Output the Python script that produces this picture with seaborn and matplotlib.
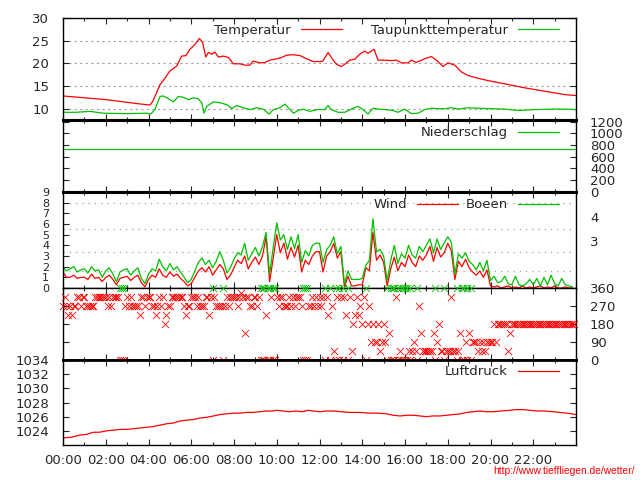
import numpy as np
import matplotlib
matplotlib.use("Agg")
import matplotlib.pyplot as plt
from matplotlib.ticker import MultipleLocator
import seaborn as sns

# --- Temperatur / Taupunkt (Stunde, Grad C) ---
temp_t = [0, 0.5, 1.0, 1.5, 2.0, 2.5, 3.0, 3.5, 4.07,
          4.2, 4.54, 4.75, 5.0, 5.32, 5.55, 5.75, 5.94, 6.18, 6.38,
          6.53, 6.68, 6.8, 6.96, 7.1, 7.27, 7.5, 7.74, 7.97, 8.28,
          8.51, 8.74, 8.9, 9.22, 9.45, 9.68, 10.0, 10.23, 10.46, 10.78,
          11.09, 11.4, 11.71, 12.02, 12.16, 12.4, 12.55, 12.79, 13.02, 13.18,
          13.41, 13.65, 13.88, 14.11, 14.27, 14.42, 14.55, 14.74, 15.05, 15.36,
          15.6, 15.83, 16.14, 16.3, 16.53, 16.92, 17.23, 17.47, 17.78, 18.01,
          18.33, 18.64, 18.95, 19.42, 19.88, 20.43, 20.97, 21.6, 22.22, 22.85,
          23.47, 24.0]
temp_v = [12.8, 12.6, 12.4, 12.2, 12.0, 11.7, 11.4, 11.1, 10.8,
          11.6, 15.3, 16.6, 18.3, 19.4, 21.6, 21.7, 23.1, 24.2, 25.5,
          24.6, 21.4, 22.4, 22.0, 22.5, 21.4, 21.6, 21.3, 19.9, 19.9,
          19.6, 19.6, 20.5, 20.1, 20.2, 20.7, 21.0, 21.3, 21.8, 21.9,
          21.7, 21.0, 20.4, 20.4, 20.5, 22.4, 21.3, 19.8, 19.3, 19.8,
          20.7, 20.9, 22.0, 22.7, 22.2, 22.7, 23.1, 20.7, 20.7, 20.6,
          20.7, 20.1, 20.1, 20.7, 20.2, 21.0, 21.5, 20.7, 19.3, 20.1,
          19.6, 18.1, 17.3, 16.7, 16.2, 15.7, 15.2, 14.6, 14.1, 13.6,
          13.1, 12.9]

dew_t = [0, 0.6, 1.26, 1.89, 2.98, 3.92, 4.1, 4.3, 4.54, 4.7,
         4.93, 5.16, 5.4, 5.64, 5.87, 6.1, 6.33, 6.49, 6.6, 6.72,
         7.04, 7.35, 7.66, 7.9, 8.13, 8.44, 8.75, 9.06, 9.37, 9.65,
         9.84, 10.15, 10.39, 10.62, 10.78, 11.0, 11.24, 11.55, 11.87, 12.24,
         12.4, 12.55, 12.87, 13.18, 13.49, 13.8, 14.04, 14.27, 14.5, 14.74,
         15.05, 15.44, 15.67, 15.99, 16.3, 16.61, 16.92, 17.23, 17.55, 17.86,
         18.17, 18.48, 18.95, 19.42, 20.04, 20.67, 21.3, 22.07, 22.85, 23.47,
         24.0]
dew_v = [9.2, 9.2, 9.4, 9.0, 8.9, 9.0, 8.8, 9.8, 12.7, 12.8,
         12.2, 11.5, 12.7, 12.5, 12.0, 12.4, 12.2, 11.3, 9.0, 10.5,
         11.5, 11.3, 10.9, 10.0, 10.7, 10.2, 9.8, 10.2, 9.9, 8.8,
         9.8, 10.2, 11.0, 9.8, 9.0, 9.6, 9.9, 9.4, 9.8, 9.8,
         10.7, 9.8, 9.2, 9.2, 9.9, 10.5, 9.8, 8.8, 10.1, 9.9,
         9.8, 9.6, 9.2, 9.9, 8.9, 9.0, 9.8, 10.1, 10.0, 10.0,
         10.2, 9.9, 10.2, 10.1, 10.0, 9.9, 9.6, 9.8, 9.9, 9.9,
         9.8]

# --- Niederschlag ---
rain_t = [0, 24]
rain_v = [730, 730]

# --- Wind / Boeen (m/s), alle 10 Minuten ---
wind = [1.5, 1.0, 1.0, 1.2, 0.9, 1.0, 1.0, 0.8, 1.3, 0.9, 1.0, 0.6,
        1.0, 1.2, 0.8, 0.3, 0.9, 1.0, 1.1, 0.7, 1.0, 1.2, 0.5, 0.1,
        0.8, 1.2, 1.0, 1.8, 1.2, 1.0, 1.5, 1.1, 1.3, 0.9, 0.6, 0.2,
        0.4, 1.0, 1.6, 1.9, 1.5, 2.0, 1.2, 1.7, 2.2, 1.8, 0.8, 1.2,
        1.9, 2.6, 2.3, 3.0, 1.8, 2.4, 2.9, 2.2, 3.0, 4.8, 0.6, 2.8,
        5.0, 3.3, 4.2, 2.7, 3.8, 2.9, 4.0, 1.5, 2.6, 2.2, 3.0, 3.4,
        3.4, 1.5, 3.0, 3.4, 4.2, 2.8, 3.4, 0.1, 1.1, 0.2, 0.2, 0.3,
        0.3, 1.9, 1.6, 5.2, 2.6, 3.1, 2.4, 0.2, 1.8, 2.9, 1.6, 2.4,
        2.0, 3.1, 2.4, 2.0, 3.0, 2.6, 3.1, 3.9, 2.5, 3.8, 2.9, 3.3,
        4.2, 3.5, 0.8, 2.5, 2.0, 2.7, 1.9, 1.5, 1.2, 1.6, 1.0, 1.7,
        0.2, 0.1, 0.2, 0.0, 0.1, 0.2, 0.0, 0.1, 0.0, 0.2, 0.0, 0.1,
        0.0, 0.1, 0.2, 0.0, 0.1, 0.0, 0.2, 0.0, 0.0, 0.1, 0.0, 0.0]
gust = [2.0, 1.6, 1.8, 2.0, 1.5, 1.7, 1.8, 1.4, 2.0, 1.6, 1.7, 1.0,
        1.6, 1.9, 1.3, 0.6, 1.5, 1.7, 1.8, 1.2, 1.6, 1.9, 0.9, 0.4,
        1.3, 1.8, 1.6, 2.7, 2.0, 1.6, 2.3, 1.7, 2.0, 1.5, 1.0, 0.5,
        0.8, 1.6, 2.4, 2.8, 2.2, 2.6, 1.9, 2.5, 3.4, 2.6, 1.4, 1.9,
        2.7, 3.3, 3.1, 4.2, 2.6, 3.2, 3.8, 3.0, 3.9, 5.2, 1.3, 3.8,
        6.1, 4.5, 5.0, 3.6, 4.8, 3.7, 5.0, 2.4, 3.5, 3.0, 4.0, 4.2,
        4.2, 2.4, 3.6, 4.0, 4.8, 3.2, 3.9, 0.4, 1.6, 0.8, 0.8, 0.8,
        0.9, 2.1, 2.6, 6.5, 3.4, 3.6, 3.0, 0.7, 2.6, 4.0, 2.3, 3.2,
        2.8, 4.0, 3.1, 2.8, 3.9, 3.4, 4.0, 4.6, 3.3, 4.6, 3.6, 4.2,
        4.8, 4.3, 1.3, 3.2, 2.8, 3.3, 2.5, 2.2, 1.7, 2.4, 1.6, 2.6,
        0.7, 1.1, 0.5, 0.6, 1.1, 0.4, 0.3, 1.1, 0.3, 0.2, 0.4, 0.8,
        0.3, 0.9, 0.2, 1.0, 0.3, 1.2, 0.4, 0.2, 0.9, 0.3, 0.2, 0.1]
wind_t = np.arange(len(wind)) / 6

# Beaufort-Grenzen und Beschriftung rechts
bft_edges = [1.6, 3.4, 5.5, 8.0]
bft_pos = [4.4, 6.7]
bft_labels = ['3', '4']

# --- Windrichtung, 16er Kompass (x 22.5 Grad), alle 5 Minuten ---
dir_code = [
    12, 14, 12, 10, 12, 10, 12, 12, 14, 14, 12, 14, 14, 12, 12, 12, 12, 12, 14, 14, 14, 14, 14, 14,
    14, 12, 14, 12, 14, 14, 14, 14, 0, 0, 0, 12, 14, 12, 14, 12, 12, 12, 12, 10, 14, 14, 12, 14,
    14, 14, 12, 12, 10, 12, 14, 12, 14, 8, 10, 12, 12, 14, 14, 14, 14, 14, 14, 14, 12, 10, 12, 12,
    14, 14, 14, 12, 14, 12, 12, 12, 14, 14, 10, 14, 0, 14, 12, 12, 12, 12, 0, 12, 14, 12, 14, 14,
    14, 14, 12, 14, 15, 14, 6, 14, 14, 12, 12, 14, 14, 12, 14, 0, 0, 0, 10, 0, 0, 14, 0, 0,
    14, 12, 14, 14, 12, 12, 12, 14, 12, 14, 12, 14, 14, 14, 12, 0, 0, 0, 12, 12, 14, 12, 14, 12,
    14, 12, 14, 0, 14, 10, 0, 12, 2, 0, 14, 0, 14, 0, 14, 10, 0, 14, 2, 8, 10, 14, 10, 12,
    8, 14, 0, 8, 12, 4, 8, 4, 4, 8, 2, 4, 8, 4, 0, 6, 0, 0, 0, 14, 0, 2, 0, 0,
    0, 0, 2, 0, 2, 4, 2, 0, 12, 6, 2, 2, 2, 2, 2, 2, 6, 0, 4, 8, 2, 2, 0, 2,
    2, 2, 14, 2, 2, 0, 2, 6, 0, 0, 4, 0, 6, 0, 4, 4, 4, 2, 4, 2, 4, 2, 4, 4,
    4, 4, 8, 4, 8, 8, 8, 8, 8, 8, 2, 6, 8, 8, 8, 8, 8, 8, 8, 8, 8, 8, 8, 8,
    8, 8, 8, 8, 8, 8, 8, 8, 8, 8, 8, 8, 8, 8, 8, 8, 8, 8, 8, 8, 8, 8, 8, 8]
dir_t = np.arange(len(dir_code)) / 12
dir_deg = np.array(dir_code) * 22.5

# --- Luftdruck (hPa) ---
press_t = [0, 0.4, 0.8, 1.1, 1.42, 1.7, 2.04, 2.35, 2.67, 3.0,
           3.29, 3.6, 3.91, 4.2, 4.54, 4.85, 5.16, 5.5, 5.79, 6.1,
           6.4, 6.7, 7.04, 7.35, 7.66, 8.0, 8.28, 8.6, 8.9, 9.2,
           9.53, 9.8, 10.0, 10.3, 10.6, 10.9, 11.2, 11.45, 11.71, 12.02,
           12.3, 12.65, 13.0, 13.4, 13.9, 14.3, 14.7, 15.14, 15.45, 15.77,
           16.1, 16.39, 16.7, 17.0, 17.3, 17.64, 17.95, 18.27, 18.6, 18.89,
           19.2, 19.5, 19.8, 20.13, 20.5, 20.9, 21.2, 21.53, 21.85, 22.15,
           22.5, 22.94, 23.25, 23.56, 24.0]
press_v = [1023.0, 1023.1, 1023.4, 1023.5, 1023.8, 1023.8, 1024.0, 1024.1, 1024.2, 1024.2,
           1024.3, 1024.4, 1024.5, 1024.6, 1024.8, 1025.0, 1025.1, 1025.4, 1025.5, 1025.6,
           1025.8, 1025.9, 1026.1, 1026.3, 1026.4, 1026.5, 1026.5, 1026.6, 1026.6, 1026.7,
           1026.8, 1026.8, 1026.9, 1026.8, 1026.7, 1026.8, 1026.7, 1026.9, 1026.8, 1026.7,
           1026.8, 1026.8, 1026.7, 1026.6, 1026.6, 1026.5, 1026.5, 1026.4, 1026.2, 1026.1,
           1026.2, 1026.2, 1026.1, 1026.0, 1026.1, 1026.1, 1026.2, 1026.3, 1026.4, 1026.6,
           1026.7, 1026.8, 1026.7, 1026.7, 1026.8, 1026.9, 1027.0, 1027.0, 1026.9, 1026.8,
           1026.8, 1026.7, 1026.6, 1026.5, 1026.3]

hour_ticks = list(range(0, 24, 2))
hour_labels = ['%02d:00' % h for h in hour_ticks]

RED = '#ff0000'
GREEN = '#00c000'
GRAY = '#a0a0a0'

sns.set_style("white")
plt.rcParams['font.family'] = ['DejaVu Sans']
plt.rcParams['font.size'] = 9.5

fig = plt.figure(figsize=(6.4, 4.8), dpi=100)


def panel(top, bottom):
    return fig.add_axes([63 / 640, 1 - bottom / 480, 513 / 640, (bottom - top) / 480])


def style(ax, right_labels=False):
    ax.set_xlim(0, 24)
    ax.xaxis.set_major_locator(MultipleLocator(2))
    ax.xaxis.set_minor_locator(MultipleLocator(1))
    ax.tick_params(axis='x', which='both', direction='in', top=True, bottom=True,
                   labelbottom=False, width=0.8)
    ax.tick_params(axis='x', which='major', length=4)
    ax.tick_params(axis='x', which='minor', length=2.5)
    ax.tick_params(axis='y', which='both', direction='in', left=True, right=True,
                   length=4, width=0.8, labelleft=not right_labels,
                   labelright=right_labels, pad=10)
    for s in ax.spines.values():
        s.set_color('black')
        s.set_linewidth(1.0)
    ax.set_xlabel('')
    ax.set_ylabel('')


def legend(ax, y, colsp):
    ax.legend(loc='center right', bbox_to_anchor=(0.966, y), ncol=2, frameon=False,
              markerfirst=False, handlelength=3.1, handletextpad=0.75,
              columnspacing=colsp, borderpad=0, borderaxespad=0, fontsize=9.5)


# Temperatur
ax1 = panel(18, 120)
ax1.set_axisbelow(True)
sns.lineplot(x=temp_t, y=temp_v, ax=ax1, color=RED, lw=0.9, label='Temperatur')
sns.lineplot(x=dew_t, y=dew_v, ax=ax1, color=GREEN, lw=0.9, label='Taupunkttemperatur')
ax1.set_ylim(7.5, 30)
ax1.set_yticks([10, 15, 20, 25, 30])
ax1.grid(axis='y', linestyle=(0, (2, 3)), color=GRAY, lw=0.8)
style(ax1)
legend(ax1, 0.882, 2.2)
ax1.spines['bottom'].set_linewidth(2.2)

# Niederschlag
ax2 = panel(120, 192)
sns.lineplot(x=rain_t, y=rain_v, ax=ax2, color=GREEN, lw=0.9, label='Niederschlag')
ax2.set_ylim(-5, 1230)
ax2.set_yticks(range(0, 1201, 200))
style(ax2, right_labels=True)
legend(ax2, 0.82, 2.2)
ax2.spines['top'].set_linewidth(2.2)
ax2.spines['bottom'].set_linewidth(2.2)

# Wind
ax3 = panel(192, 288)
for e in bft_edges:
    ax3.axhline(e, color=GRAY, lw=0.9, linestyle=(0, (1, 4)), zorder=0)
sns.lineplot(x=wind_t, y=wind, ax=ax3, color=RED, lw=0.9, label='Wind')
sns.lineplot(x=wind_t, y=gust, ax=ax3, color=GREEN, lw=0.9, label='Boeen')
ax3.set_ylim(0, 9)
ax3.set_yticks(range(0, 10))
style(ax3)
ax3.tick_params(axis='y', labelsize=8)
legend(ax3, 0.865, 0.55)
ax3.spines['top'].set_linewidth(2.2)
ax3b = ax3.twinx()
ax3b.set_ylim(0, 9)
ax3b.set_yticks(bft_pos)
ax3b.set_yticklabels(bft_labels)
ax3b.tick_params(axis='y', length=0, pad=10)
for s in ax3b.spines.values():
    s.set_visible(False)

# Windrichtung
ax4 = panel(288, 360)
sns.scatterplot(x=dir_t, y=dir_deg, ax=ax4, marker='x', s=26, color=RED,
                linewidth=0.6, clip_on=False, zorder=3)
north = dir_deg == 0
sns.scatterplot(x=dir_t[north], y=dir_deg[north] + 360, ax=ax4, marker='x', s=26,
                color=GREEN, linewidth=0.6, clip_on=False, zorder=3)
ax4.set_ylim(0, 360)
ax4.set_yticks([0, 90, 180, 270, 360])
style(ax4, right_labels=True)
ax4.spines['bottom'].set_linewidth(2.0)

# Luftdruck
ax5 = panel(360, 445)
sns.lineplot(x=press_t, y=press_v, ax=ax5, color=RED, lw=0.9, label='Luftdruck')
ax5.set_ylim(1022, 1034)
ax5.set_yticks(range(1024, 1035, 2))
style(ax5)
ax5.set_xticks(hour_ticks)
ax5.set_xticklabels(hour_labels)
ax5.tick_params(axis='x', labelbottom=True, pad=6.5)
legend(ax5, 0.859, 2.2)
ax5.spines['top'].set_linewidth(2.0)

fig.text(0.992, 0.0194, 'http://www.tieffliegen.de/wetter/', color=RED, fontsize=7.4,
         family=['Liberation Sans', 'DejaVu Sans'], ha='right', va='center')

fig.savefig('out.png', dpi=100)
